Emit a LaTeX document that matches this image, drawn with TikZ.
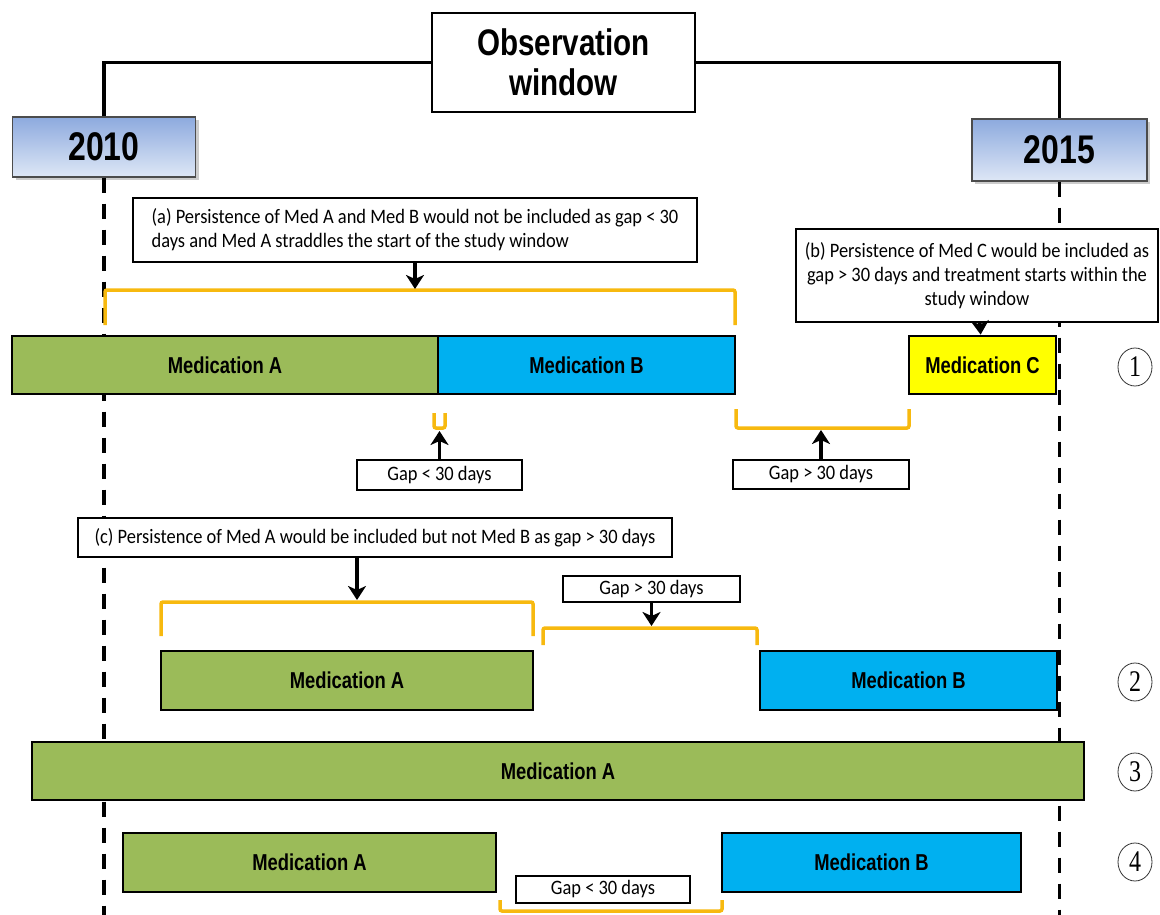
\documentclass[tikz,border=0pt]{standalone}
\usepackage{fontspec}
\usetikzlibrary{arrows.meta,shapes.geometric,shadows}
\newfontfamily\barfont[FakeStretch=0.8]{Liberation Sans}
\newfontfamily\notefont[FakeStretch=0.9]{Carlito}
\newfontfamily\numfont[FakeStretch=0.8]{Liberation Serif}
\definecolor{medgreen}{RGB}{155,187,89}
\definecolor{medblue}{RGB}{0,176,240}
\definecolor{medyellow}{RGB}{255,255,0}
\definecolor{gapyellow}{RGB}{247,185,15}
\definecolor{yeartop}{RGB}{141,170,222}
\definecolor{yearbot}{RGB}{222,231,246}
\begin{document}
\begin{tikzpicture}[x=1pt,y=1pt]
\tikzstyle{every node}+=[inner sep=0pt]
\tikzstyle{med}=[draw=black,line width=2.8pt,font=\barfont\bfseries\fontsize{23}{27}\selectfont]
\tikzstyle{note}=[draw=black,fill=white,line width=1.4pt,font=\notefont\fontsize{20.5}{24}\selectfont]
\tikzstyle{year}=[draw=black!70,line width=1.2pt,top color=yeartop,bottom color=yearbot,drop shadow={shadow xshift=3pt,shadow yshift=-3pt,opacity=0.4},font=\barfont\bfseries\fontsize{40}{44}\selectfont]
\tikzstyle{frame}=[black,line width=3.5pt]
\tikzstyle{window}=[black,line width=3.5pt,dash pattern=on 15pt off 11pt]
\tikzstyle{gapline}=[gapyellow,line width=3.5pt,rounded corners=2pt]
\tikzstyle{arr}=[black,line width=3.5pt,-{Stealth[length=14pt,width=18pt,inset=4pt]}]
\tikzstyle{num}=[draw=black!80,ellipse,line width=0.8pt,minimum width=34pt,minimum height=38pt,font=\numfont\fontsize{30}{30}\selectfont]
\useasboundingbox (0,0) rectangle (1160,-915);
\node[year,minimum width=183pt,minimum height=60pt] (y2010) at (104,-147) {2010};
\node[year,minimum width=175pt,minimum height=62pt] (y2015) at (1059.5,-150) {2015};
\node[draw=black,line width=1.5pt,fill=white,minimum width=263pt,minimum height=99pt,align=center,font=\barfont\bfseries\fontsize{37}{40}\selectfont] (obs) at (563.5,-62.5) {Observation\\window};
\draw[frame] (y2010.north) |- (obs.west);
\draw[frame] (obs.east) -| (y2015.north);
\coordinate (endL) at (104,-915);
\coordinate (endR) at (1059.5,-915);
\draw[window] (y2010.south) -- (endL);
\draw[window] (y2015.south) -- (endR);
\node[note,minimum width=564pt,minimum height=64pt,align=left] (notea) at (415,-230) {(a) Persistence of Med A and Med B would not be included as gap < 30\\days and Med A straddles the start of the study window};
\node[note,minimum width=362pt,minimum height=93pt,align=center] (noteb) at (977,-275.5) {(b) Persistence of Med C would be included as\\gap > 30 days and treatment starts within the\\study window};
\node[note,minimum width=594pt,minimum height=39pt] (notec) at (375,-537.5) {(c) Persistence of Med A would be included but not Med B as gap > 30 days};
\draw[gapline] (105,-325) -- (105,-290) -- (735,-290) -- (735,-325);
\coordinate (ga) at (415,-289);
\draw[arr] (notea) -- (ga);
\node[med,fill=medgreen,minimum width=426pt,minimum height=58pt] (medA1) at (225,-365) {Medication A};
\node[med,fill=medblue,minimum width=297pt,minimum height=58pt] (medB1) at (586.5,-365) {Medication B};
\node[med,fill=medyellow,minimum width=147pt,minimum height=58pt] (medC1) at (982.5,-365) {Medication C};
\draw[arr] (noteb) -- (medC1);
\draw[gapline] (434,-413) -- (434,-428) -- (445,-428) -- (445,-413);
\draw[gapline] (736,-409) -- (736,-428) -- (909,-428) -- (909,-409);
\node[note,minimum width=165pt,minimum height=30pt] (gap1) at (439.5,-475) {Gap < 30 days};
\node[note,minimum width=176pt,minimum height=29pt] (gap2) at (821,-474.5) {Gap > 30 days};
\coordinate (gu1) at (439.5,-431);
\coordinate (gu2) at (821,-430);
\draw[arr] (gap1) -- (gu1);
\draw[arr] (gap2) -- (gu2);
\draw[gapline] (161,-636) -- (161,-602) -- (533,-602) -- (533,-636);
\draw[gapline] (543,-645) -- (543,-628) -- (757,-628) -- (757,-645);
\coordinate (gc) at (357,-600);
\draw[arr] (notec.south -| gc) -- (gc);
\node[note,minimum width=177pt,minimum height=26pt] (gap3) at (651.5,-589) {Gap > 30 days};
\coordinate (gu3) at (651.5,-626);
\draw[arr] (gap3) -- (gu3);
\node[med,fill=medgreen,minimum width=372pt,minimum height=59pt] (medA2) at (347,-680.5) {Medication A};
\node[med,fill=medblue,minimum width=297pt,minimum height=59pt] (medB2) at (908.5,-680.5) {Medication B};
\node[med,fill=medgreen,minimum width=1052pt,minimum height=58pt] (medA3) at (558,-771) {Medication A};
\node[med,fill=medgreen,minimum width=373pt,minimum height=59pt] (medA4) at (309.5,-862.5) {Medication A};
\node[med,fill=medblue,minimum width=299pt,minimum height=59pt] (medB4) at (871.5,-862.5) {Medication B};
\node[note,minimum width=174pt,minimum height=27pt] (gap4) at (603,-889.5) {Gap < 30 days};
\draw[gapline] (500,-900) -- (500,-911) -- (722,-911) -- (722,-900);
\node[num] (num1) at (1135,-367) {1};
\node[num] (num2) at (1135,-682) {2};
\node[num] (num3) at (1135,-772) {3};
\node[num] (num4) at (1135,-862) {4};
\end{tikzpicture}
\end{document}
